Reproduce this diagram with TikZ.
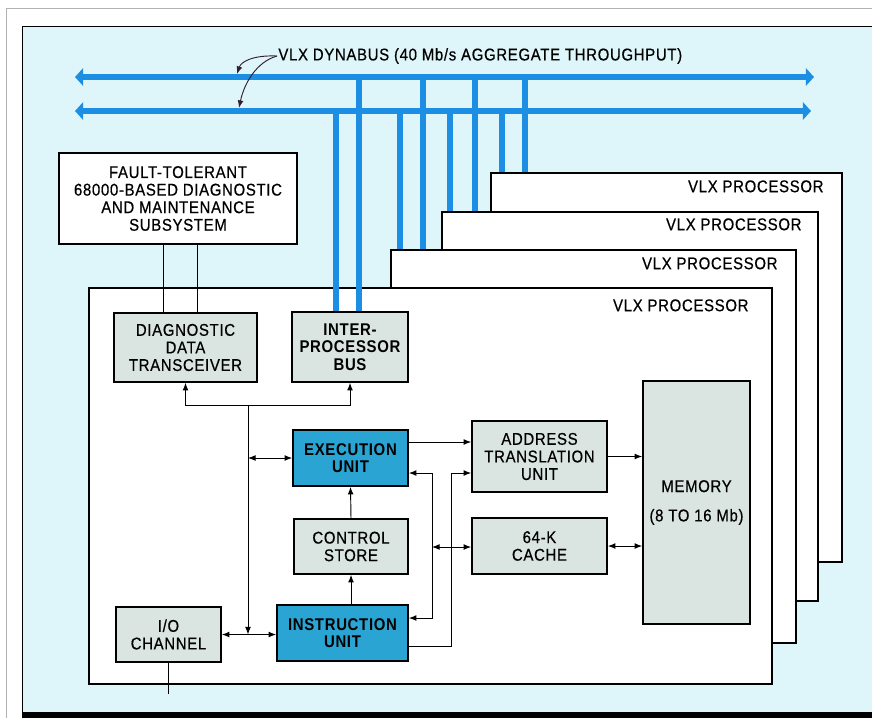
\documentclass[tikz,border=0pt]{standalone}
\usepackage{fontspec}
\setmainfont{Liberation Sans}[FakeStretch=0.88, LetterSpace=4, UprightFeatures={FakeBold=0.5}]
\usetikzlibrary{arrows, arrows.meta}
\usetikzlibrary{calc}

\definecolor{paneltint}{RGB}{222,246,249}
\definecolor{boxgrey}{RGB}{218,229,226}
\definecolor{boxblue}{RGB}{42,164,210}
\definecolor{busblue}{RGB}{28,142,228}
\definecolor{notecol}{RGB}{55,30,45}

\begin{document}
\begin{tikzpicture}[x=0.03cm, y=-0.03cm, font=\fontsize{14.5}{15}\selectfont,
    >={Latex[length=6.5pt,width=5pt]},
    unit/.style={draw, line width=1.4pt, inner sep=0pt, align=center},
    greybox/.style={unit, fill=boxgrey},
    bluebox/.style={unit, fill=boxblue, font=\fontsize{14.5}{15}\selectfont\bfseries},
    wh/.style 2 args={minimum width=#1*0.03cm, minimum height=#2*0.03cm},
    proc/.style={draw, line width=1.1pt, fill=white, inner sep=0pt},
    link/.style={line width=0.8pt},
    dynabus/.style={draw=busblue, line width=5.5pt,
      {Triangle[length=7pt,width=15pt]}-{Triangle[length=7pt,width=15pt]}},
    tap/.style={draw=busblue, line width=4.5pt},
    callout/.style={draw=notecol, line width=0.8pt, ->}]
      \useasboundingbox (0,0) rectangle (872,718);
      \fill[white] (0,0) rectangle (872,718);
      \draw[gray!60, line width=0.6pt] (6,718) -- (6,8) -- (872,8);
      \fill[paneltint] (22,26) rectangle (872,712);
      \draw[line width=0.8pt] (22,712) -- (22,26) -- (872,26);
      \fill[black] (22,712) rectangle (872,718);

      % processor cards, back to front
      \node[proc, wh={351}{389}] (proc1) at (666.5, 367.5) {};
      \node[proc, wh={376}{389}] (proc2) at (630, 406.5) {};
      \node[proc, wh={405}{393}] (proc3) at (593.5, 446.5) {};
      \node[proc, wh={683}{396}] (proc4) at (430.5, 486) {};
      \node[anchor=east] (lab1) at ($(proc1.north east)+(-15,14)$) {VLX PROCESSOR};
      \node[anchor=east] (lab2) at ($(proc2.north east)+(-13,13)$) {VLX PROCESSOR};
      \node[anchor=east] (lab3) at ($(proc3.north east)+(-15,14)$) {VLX PROCESSOR};
      \node[anchor=east] (lab4) at ($(proc4.north east)+(-20,18)$) {VLX PROCESSOR};

      \node[unit, fill=white, wh={238}{91}] (ft) at (178, 198.5) {FAULT-TOLERANT\\68000-BASED DIAGNOSTIC\\AND MAINTENANCE\\SUBSYSTEM};
      \node[greybox, wh={143}{69}] (ddt) at (185.5, 347.5) {DIAGNOSTIC\\DATA\\TRANSCEIVER};
      \node[greybox, wh={116}{70}, font=\fontsize{14.5}{15}\selectfont\bfseries] (ipb) at (350, 347) {INTER-\\PROCESSOR\\BUS};
      \node[bluebox, wh={115}{56}] (eu) at (350.5, 458) {EXECUTION\\UNIT};
      \node[greybox, wh={114}{55}] (cs) at (351, 546.5) {CONTROL\\STORE};
      \node[bluebox, wh={131}{56}] (iu) at (342.5, 633) {INSTRUCTION\\UNIT};
      \node[greybox, wh={105}{55}] (io) at (168.5, 634.5) {I/O\\CHANNEL};
      \node[greybox, wh={135}{71}] (atu) at (539.5, 456.5) {ADDRESS\\TRANSLATION\\UNIT};
      \node[greybox, wh={135}{56}] (cache) at (539.5, 546) {64-K\\CACHE};
      \node[greybox, wh={107}{243}] (mem) at (696.5, 502.5) {MEMORY\\[10pt](8 TO 16 Mb)};

      % dynabus
      \coordinate (ubus) at (75, 77);
      \coordinate (ubuse) at (814, 77);
      \coordinate (lbus) at (75, 111);
      \coordinate (lbuse) at (811, 111);
      \foreach \xa/\xb/\dst in {336/359/ipb, 400/423/proc3, 450/475/proc2, 502/525/proc1}{
        \draw[tap] (\xa,0 |- lbus) -- (\xa,0 |- \dst.north);
        \draw[tap] (\xb,0 |- ubus) -- (\xb,0 |- \dst.north);
      }
      \draw[dynabus] (ubus) -- (ubuse);
      \draw[dynabus] (lbus) -- (lbuse);
      \node[anchor=west, inner sep=1pt] (dyn) at (277, 56) {VLX DYNABUS (40 Mb/s AGGREGATE THROUGHPUT)};
      \coordinate (hit1) at (237, 74);
      \coordinate (hit2) at (239, 108);
      \draw[callout] (dyn.west) .. controls (252,55) and (241,62) .. (hit1);
      \draw[callout] (dyn.west) .. controls (256,62) and (244,84) .. (hit2);

      % diagnostic links
      \coordinate (ftl) at ($(ddt.north)+(-22.5,0)$);
      \coordinate (ftr) at ($(ddt.north)+(11.5,0)$);
      \draw[link] (ftl) -- (ftl |- ft.south);
      \draw[link] (ftr) -- (ftr |- ft.south);
      \coordinate (split) at (248, 405);
      \draw[link, ->] (split) -| (ddt.south);
      \draw[link, ->] (split) -| (ipb.south);
      \draw[link, ->] (split) -- (split |- io.east);
      \draw[link, <->] (split |- eu.west) -- (eu.west);
      \draw[link, <->] (io.east) -- (io.east -| iu.west);
      \coordinate (ioout) at (166, 694);
      \draw[link] (io.south) -- (io.south |- ioout);

      % datapath
      \draw[link, ->] (iu.north -| cs.south) -- (cs.south);
      \draw[link, ->] (cs.north) -- (eu.south);
      \coordinate (euout) at ($(eu.east)+(0,-16)$);
      \draw[link, ->] (euout) -- (euout -| atu.west);
      \draw[link, ->] (atu.east) -- (atu.east -| mem.west);
      \draw[link, <->] (cache.east) -- (cache.east -| mem.west);
      \coordinate (dbus) at (432, 547);
      \draw[link, ->] (dbus) |- ($(eu.east)+(0,15)$);
      \draw[link, ->] (dbus) |- ($(iu.east)+(0,-15)$);
      \draw[link, <->] (dbus) -- (dbus -| cache.west);
      \coordinate (abus) at (451, 473);
      \draw[link, ->] ($(iu.east)+(0,13)$) -| (abus) -- (abus -| atu.west);
\end{tikzpicture}
\end{document}
